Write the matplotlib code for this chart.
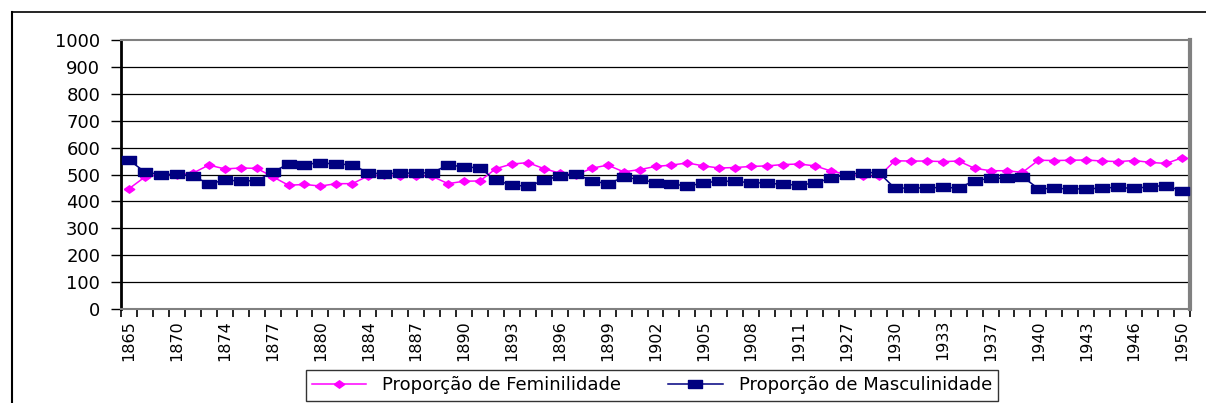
import matplotlib.pyplot as plt
from matplotlib.lines import Line2D

# categories (years); only every third one is labelled on the axis
years = [1865, 1867, 1869, 1870, 1872, 1873, 1874, 1875, 1876, 1877,
         1878, 1879, 1880, 1882, 1883, 1884, 1885, 1886, 1887, 1888,
         1889, 1890, 1891, 1892, 1893, 1894, 1895, 1896, 1897, 1898,
         1899, 1900, 1901, 1902, 1903, 1904, 1905, 1906, 1907, 1908,
         1909, 1910, 1911, 1912, 1926, 1927, 1928, 1929, 1930, 1931,
         1932, 1933, 1935, 1936, 1937, 1938, 1939, 1940, 1941, 1942,
         1943, 1944, 1945, 1946, 1948, 1949, 1950]

fem = [447, 491, 500, 499, 505, 535, 521, 524, 523, 492,
       460, 463, 457, 466, 466, 495, 497, 495, 495, 493,
       466, 475, 476, 522, 539, 544, 522, 505, 498, 523,
       535, 510, 518, 530, 535, 543, 532, 524, 526, 530,
       532, 537, 539, 532, 513, 500, 493, 493, 551, 550,
       550, 548, 550, 523, 514, 514, 508, 553, 552, 553,
       554, 550, 548, 552, 545, 541, 562]

masc = [554, 509, 500, 501, 495, 465, 479, 476, 477, 508,
        540, 537, 544, 538, 537, 505, 503, 505, 505, 507,
        535, 529, 524, 478, 461, 456, 478, 495, 502, 477,
        465, 490, 482, 470, 465, 457, 468, 476, 474, 470,
        468, 463, 461, 468, 487, 500, 507, 507, 449, 450,
        450, 452, 450, 477, 486, 486, 492, 447, 448, 447,
        446, 450, 452, 448, 455, 459, 438]

yticks = list(range(0, 1001, 100))

fig = plt.figure(figsize=(12.06, 4.03), dpi=100)
ax = fig.add_axes([121 / 1206, 1 - 309 / 403, 1069 / 1206, 269 / 403])

x = list(range(len(years)))

rect = [(-1.75, -1), (1.75, -1), (1.75, 1), (-1.75, 1), (-1.75, -1)]
diam = [(-1.4, 0), (0, 1), (1.4, 0), (0, -1), (-1.4, 0)]

ax.plot(x, fem, color="#FF00FF", lw=1.1, marker=diam, ms=7.5,
        mec="#FF00FF", mfc="#FF00FF", label="Proporção de Feminilidade", zorder=3)
ax.plot(x, masc, color="#000080", lw=1.1, marker=rect, ms=10.5,
        mec="#000080", mfc="#000080", label="Proporção de Masculinidade", zorder=4)

ax.set_xlim(-0.5, len(years) - 0.5)
ax.set_ylim(0, 1000)

ax.set_yticks(yticks)
ax.set_yticklabels([str(v) for v in yticks], fontsize=13)
for v in yticks[1:-1]:
    ax.axhline(v, color="black", lw=0.9, zorder=1)

# ticks on category boundaries, labels on every third category
ax.set_xticks([i - 0.5 for i in range(len(years) + 1)])
ax.set_xticklabels([])
ax.set_xticks(x[::3], minor=True)
ax.set_xticklabels([str(years[i]) for i in x[::3]], minor=True,
                   rotation=90, fontsize=11.5)
ax.tick_params(axis="x", which="major", length=6, width=1.2, color="black")
ax.tick_params(axis="x", which="minor", length=0, pad=8)
ax.tick_params(axis="y", length=7, width=1, pad=8)

ax.spines["left"].set_color("black")
ax.spines["left"].set_linewidth(2)
ax.spines["bottom"].set_color("#808080")
ax.spines["bottom"].set_linewidth(1.5)
ax.spines["top"].set_color("#808080")
ax.spines["top"].set_linewidth(1.5)
ax.spines["right"].set_color("#808080")
ax.spines["right"].set_linewidth(3)

leg = fig.legend(loc="upper center", bbox_to_anchor=(652 / 1206, 1 - 370 / 403),
                 ncol=2, fontsize=13, frameon=True, fancybox=False,
                 edgecolor="black", borderpad=0.35, handlelength=3.0,
                 columnspacing=2.6, handletextpad=0.9, borderaxespad=0)
leg.get_frame().set_linewidth(1)

# outer chart border (left and top)
fig.add_artist(Line2D([12 / 1206, 12 / 1206], [0, 1 - 12 / 403],
                      color="black", lw=1.5, transform=fig.transFigure))
fig.add_artist(Line2D([12 / 1206, 1], [1 - 12 / 403, 1 - 12 / 403],
                      color="black", lw=1.2, transform=fig.transFigure))

fig.savefig("out.png", dpi=100)
